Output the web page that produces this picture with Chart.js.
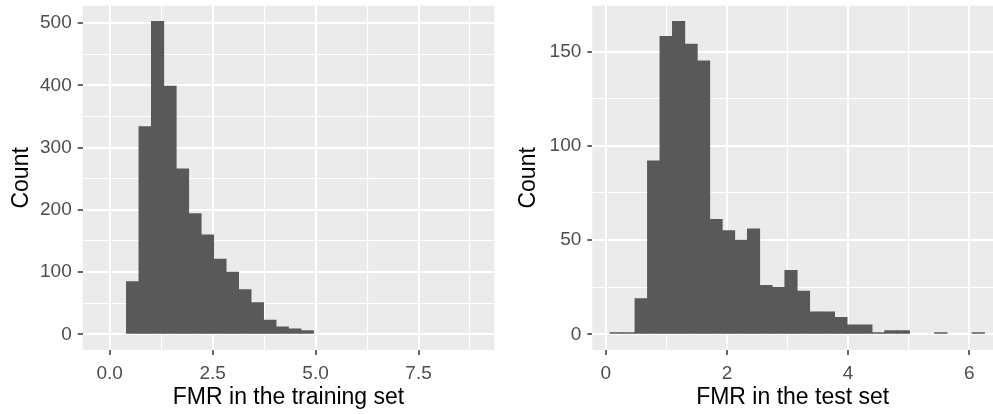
<!DOCTYPE html>
<html>
<head>
<meta charset="utf-8">
<script src="https://cdn.jsdelivr.net/npm/chart.js@4.4.1/dist/chart.umd.min.js"></script>
<style>
	html, body { margin: 0; padding: 0; background: #fff; overflow: hidden; }
	.panel-wrap { position: absolute; top: 0; }
</style>
</head>
<body>
<div class="panel-wrap" style="left:0"><canvas id="train-hist" width="500" height="414"></canvas></div>
<div class="panel-wrap" style="left:500px"><canvas id="test-hist" width="493" height="414"></canvas></div>
<script>
// histogram bin centres + counts (30 bins each)
var trainBins = [-0.050, 0.254, 0.557, 0.860, 1.163, 1.466, 1.769, 2.072, 2.375, 2.678,
	2.981, 3.284, 3.587, 3.890, 4.193, 4.496, 4.799, 5.102, 5.405, 5.708,
	6.011, 6.314, 6.617, 6.920, 7.223, 7.526, 7.829, 8.132, 8.435, 8.738];
var trainCounts = [0, 0, 85, 334, 503, 399, 266, 194, 160, 121,
	100, 72, 51, 23, 12, 9, 6, 0, 0, 0,
	0, 0, 0, 0, 0, 0, 0, 0, 0, 0];

var testBins = [0.173, 0.379, 0.585, 0.791, 0.997, 1.203, 1.409, 1.615, 1.821, 2.027,
	2.233, 2.439, 2.645, 2.851, 3.057, 3.263, 3.469, 3.675, 3.881, 4.087,
	4.293, 4.499, 4.705, 4.911, 5.117, 5.323, 5.529, 5.735, 5.941, 6.147];
var testCounts = [1, 1, 19, 92, 158, 166, 154, 145, 61, 55,
	50, 56, 26, 25, 34, 23, 12, 12, 9, 5,
	5, 1, 2, 2, 0, 0, 1, 0, 0, 1];

// axis ticks
var trainXTicks = [0, 2.5, 5, 7.5];
var trainXLabels = ["0.0", "2.5", "5.0", "7.5"];
var trainYTicks = [0, 100, 200, 300, 400, 500];
var trainYLabels = ["0", "100", "200", "300", "400", "500"];
var testXTicks = [0, 2, 4, 6];
var testXLabels = ["0", "2", "4", "6"];
var testYTicks = [0, 50, 100, 150];
var testYLabels = ["0", "50", "100", "150"];

var FONT = "'Liberation Sans', Arial, sans-serif";
var BAR_COLOR = "#595959";
var PANEL_COLOR = "#EBEBEB";

var panelBg = {
	id: "panelBg",
	beforeDraw: function (chart) {
		var a = chart.chartArea;
		var ctx = chart.ctx;
		ctx.save();
		ctx.fillStyle = PANEL_COLOR;
		ctx.fillRect(a.left, a.top, a.right - a.left, a.bottom - a.top);
		ctx.restore();
	}
};

function majorIndex(major, v) {
	for (var i = 0; i < major.length; i++) {
		if (Math.abs(major[i] - v) < 1e-6) return i;
	}
	return -1;
}

function isMajorTick(major, c) {
	return !c.tick || majorIndex(major, c.tick.value) >= 0;
}

// majors plus the ggplot-style minor line halfway between them
function gridValues(major, lo, hi) {
	var half = (major[1] - major[0]) / 2;
	var out = [];
	for (var v = major[0] - half * 2; v <= major[major.length - 1] + half * 2; v += half) {
		if (v >= lo && v <= hi) out.push(v);
	}
	return out;
}

function makeAxis(opt) {
	return {
		type: "linear",
		min: opt.min,
		max: opt.max,
		offset: false,
		afterBuildTicks: function (axis) {
			axis.ticks = gridValues(opt.major, opt.min, opt.max).map(function (v) {
				return { value: v };
			});
		},
		afterFit: function (axis) {
			// fixed box sizes so the panels sit where they do in the figure
			if (opt.isX) axis.height = opt.size;
			else axis.width = opt.size;
			axis.paddingTop = 0;
			axis.paddingBottom = 0;
			axis.paddingLeft = 0;
			axis.paddingRight = 0;
		},
		border: { display: false },
		grid: {
			offset: false,
			color: "#ffffff",
			lineWidth: function (c) {
				return isMajorTick(opt.major, c) ? 2 : 1.1;
			},
			tickColor: function (c) {
				return isMajorTick(opt.major, c) ? "#333333" : "rgba(0,0,0,0)";
			},
			tickLength: 5,
			tickWidth: 1.5
		},
		ticks: {
			autoSkip: false,
			maxRotation: 0,
			padding: opt.isX ? 7 : 6,
			color: "#4D4D4D",
			font: { family: FONT, size: 19 },
			callback: function (v) {
				var i = majorIndex(opt.major, v);
				return i < 0 ? "" : opt.labels[i];
			}
		},
		title: {
			display: true,
			text: opt.title,
			color: "#000000",
			font: { family: FONT, size: 23 },
			padding: opt.titlePad
		}
	};
}

function drawHist(canvasId, bins, counts, xAxis, yAxis, pad) {
	var ctx = document.getElementById(canvasId).getContext("2d");
	var points = bins.map(function (b, i) {
		// empty bins draw nothing
		return { x: b, y: counts[i] > 0 ? counts[i] : null };
	});
	return new Chart(ctx, {
		type: "bar",
		data: {
			datasets: [{
				data: points,
				backgroundColor: BAR_COLOR,
				borderWidth: 0,
				barPercentage: 1,
				categoryPercentage: 1
			}]
		},
		options: {
			responsive: false,
			animation: false,
			layout: { padding: pad },
			plugins: {
				legend: { display: false },
				tooltip: { enabled: false }
			},
			scales: { x: xAxis, y: yAxis }
		},
		plugins: [panelBg]
	});
}

drawHist("train-hist", trainBins, trainCounts,
	makeAxis({ isX: true, min: -0.655, max: 9.34, major: trainXTicks, labels: trainXLabels,
		size: 64, title: "FMR in the training set", titlePad: { top: 0, bottom: 3 } }),
	makeAxis({ isX: false, min: -25.15, max: 528.2, major: trainYTicks, labels: trainYLabels,
		size: 82.7, title: "Count", titlePad: { top: 8, bottom: 0 } }),
	{ top: 5.7, right: 5.7, bottom: 0, left: 0 });

drawHist("test-hist", testBins, testCounts,
	makeAxis({ isX: true, min: -0.221, max: 6.39, major: testXTicks, labels: testXLabels,
		size: 64, title: "FMR in the test set", titlePad: { top: 0, bottom: 3 } }),
	makeAxis({ isX: false, min: -8.3, max: 174.3, major: testYTicks, labels: testYLabels,
		size: 92.3, title: "Count", titlePad: { top: 15, bottom: 0 } }),
	{ top: 5.7, right: 0, bottom: 0, left: 0 });
</script>
</body>
</html>
